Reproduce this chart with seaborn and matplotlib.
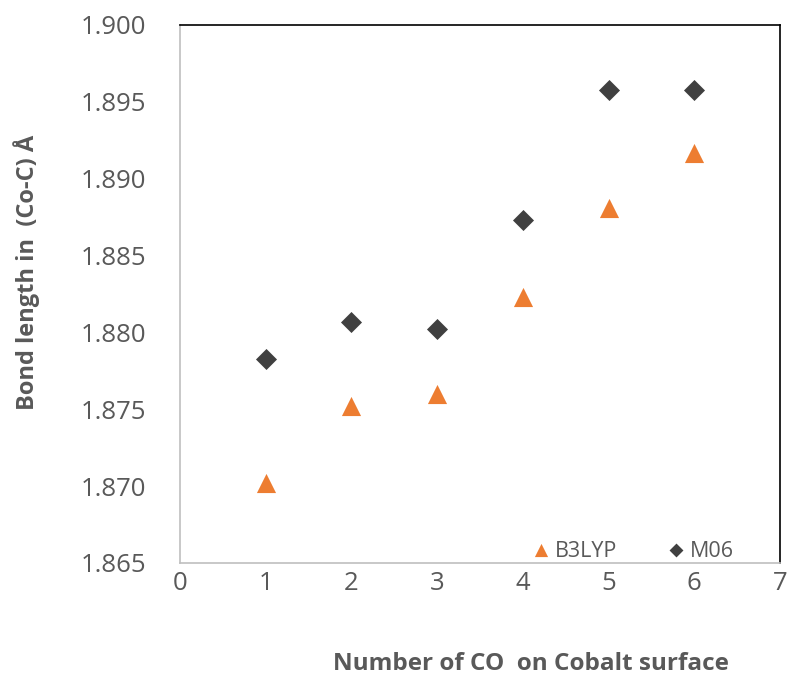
import matplotlib
matplotlib.use("Agg")
import matplotlib.pyplot as plt
import seaborn as sns
import pandas as pd

co_counts = [1, 2, 3, 4, 5, 6]
b3lyp = [1.8702, 1.8752, 1.8760, 1.8823, 1.8881, 1.8917]
m06 = [1.8783, 1.8807, 1.8802, 1.8873, 1.8958, 1.8958]
x_ticks = [0, 1, 2, 3, 4, 5, 6, 7]
y_ticks = [1.865, 1.870, 1.875, 1.880, 1.885, 1.890, 1.895, 1.900]

df_b = pd.DataFrame({"n": co_counts, "bond": b3lyp})
df_m = pd.DataFrame({"n": co_counts, "bond": m06})

sns.set_style("white")
plt.rcParams['font.family'] = ['Open Sans', 'DejaVu Sans']

fig = plt.figure(figsize=(7.91, 6.75), dpi=100)
ax = fig.add_axes([0.2276, 0.166, 0.7584, 0.797])

sns.scatterplot(data=df_b, x="n", y="bond", marker="^", color="#ED7D31",
                s=190, linewidth=0, ax=ax, label="B3LYP")
sns.scatterplot(data=df_m, x="n", y="bond", marker="D", color="#404040",
                s=115, linewidth=0, ax=ax, label="M06")

ax.set_xlim(0, 7)
ax.set_ylim(1.865, 1.900)
ax.set_xticks(x_ticks)
ax.set_yticks(y_ticks)
ax.set_xticklabels([str(v) for v in x_ticks])
ax.set_yticklabels([f"{v:.3f}" for v in y_ticks])
ax.tick_params(axis='both', labelsize=18.5, colors='#595959', length=0)
ax.tick_params(axis='x', pad=6)
ax.tick_params(axis='y', pad=24)

for side in ["left", "bottom"]:
    ax.spines[side].set_color("#BFBFBF")
    ax.spines[side].set_linewidth(1.2)
for side in ["top", "right"]:
    ax.spines[side].set_color("#000000")
    ax.spines[side].set_linewidth(1.2)

ax.set_xlabel("Number of CO  on Cobalt surface", fontsize=17.5, fontweight='bold',
              color='#595959')
ax.xaxis.set_label_coords(0.585, -0.165)
ax.set_ylabel("Bond length in  (Co-C) Å", fontsize=17, fontweight='bold',
              color='#595959')
ax.yaxis.set_label_coords(-0.233, 0.54)

leg = ax.legend(loc='lower right', ncol=2, frameon=False, fontsize=15.5,
                handletextpad=0.05, columnspacing=2.1, scatteryoffsets=[0.5],
                bbox_to_anchor=(0.955, -0.035), handlelength=1.2)
leg.legend_handles[0].set_sizes([90])
leg.legend_handles[1].set_sizes([50])
for t in leg.get_texts():
    t.set_color('#595959')

fig.savefig("out.png", dpi=100)
